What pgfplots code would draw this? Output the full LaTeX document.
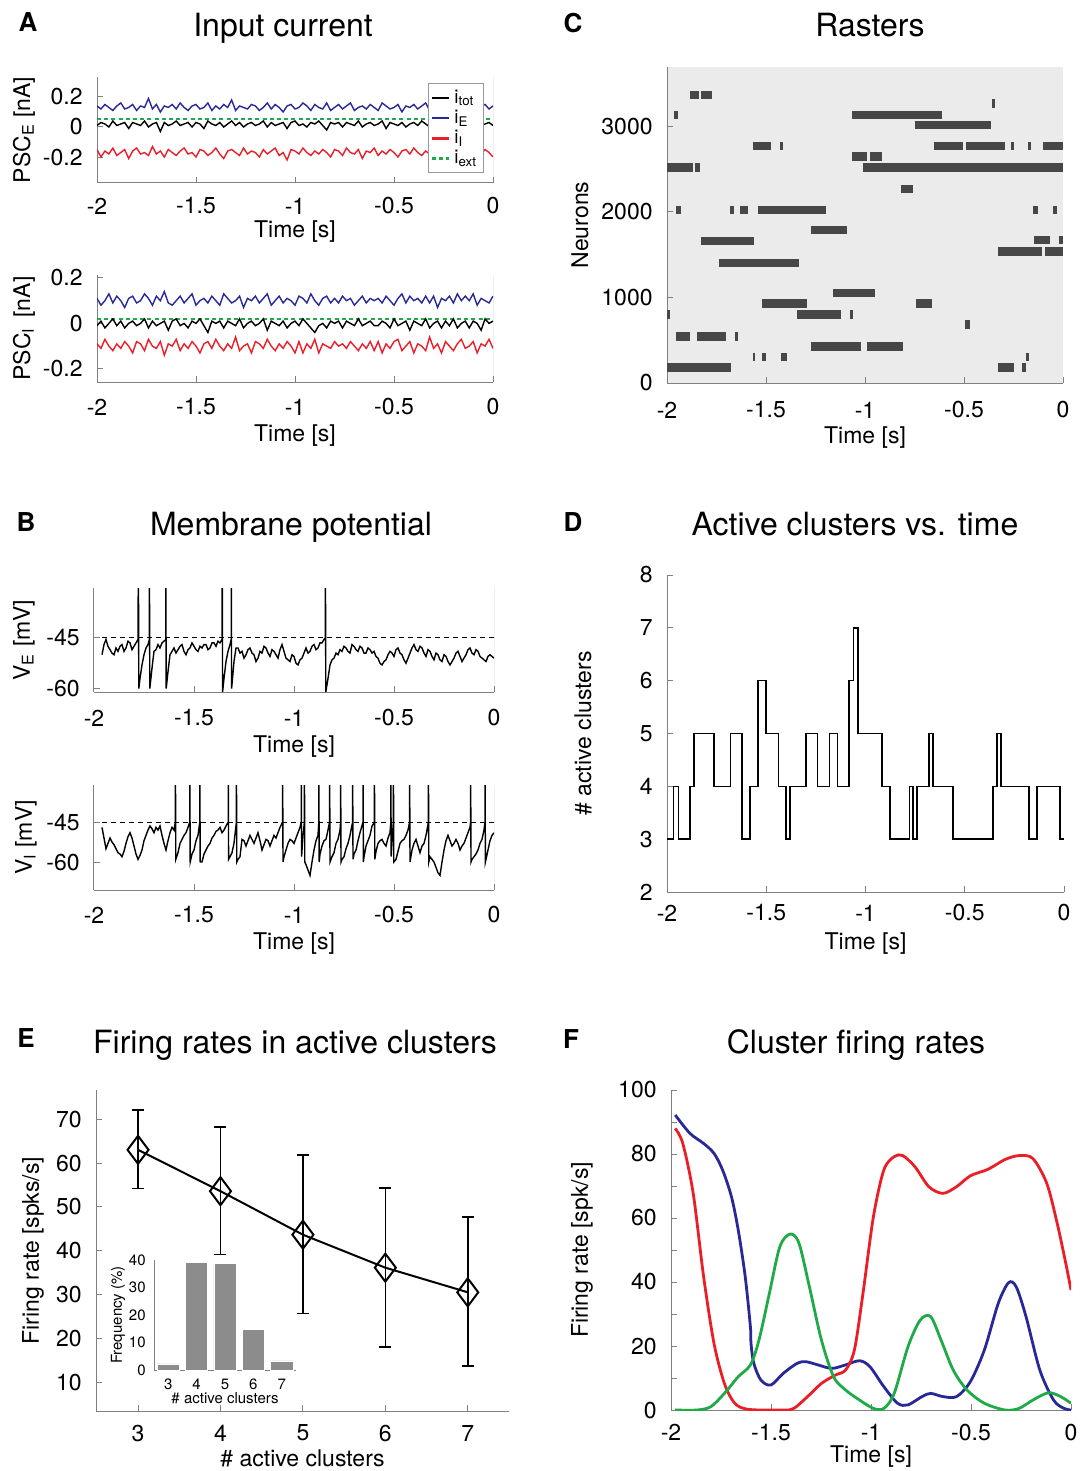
\documentclass[border=0pt]{standalone}
\usepackage{fontspec}
\setmainfont{TeX Gyre Heros}
\usepackage{pgfplots}
\usepackage{pgfplotstable}
\pgfplotsset{compat=1.18}
\definecolor{cb}{RGB}{40,40,150}
\definecolor{cr}{RGB}{235,30,40}
\definecolor{cg}{RGB}{30,170,70}
\newcommand\fTick{\fontsize{11.5}{13}\selectfont}
\newcommand\fTitle{\fontsize{16}{19}\selectfont}
\newcommand\fLet{\fontsize{13}{15}\selectfont\bfseries}
\newcommand\fSm{\fontsize{7.5}{9}\selectfont}
\newcommand\fLeg{\fontsize{9.5}{11}\selectfont}

\pgfplotsset{
 base/.style={
  scale only axis, anchor=south west,
  axis x line*=bottom, axis y line*=left,
  axis line style={draw=black!50, line width=0.5pt, -},
  every tick/.style={draw=black!50, line width=0.5pt},
  tick align=inside, major tick length=3pt,
  tick label style={font=\fTick, inner sep=0pt, text=black},
  yticklabel style={anchor=east, xshift=-7pt},
  /pgf/number format/assume math mode=true,
  /pgf/number format/1000 sep={},
  scaled ticks=false,
  xtick={-2,-1.5,-1,-0.5,0}, xmin=-2, xmax=0,
 },
 xtl/.style={xticklabel style={anchor=center, yshift=-#1}},
 xl/.style={every axis x label/.style={at={([yshift=-#1]rel axis cs:0.5,0)}, anchor=center, font=\fTick}},
 yl/.style={every axis y label/.style={at={([xshift=-#1]rel axis cs:0,0.5)}, rotate=90, anchor=center, font=\fTick}},
}

\pgfplotstableread{
x E T I
-2 0.14 0.01 -0.15
-1.98 0.12 0.03 -0.20
-1.96 0.15 0.02 -0.16
-1.94 0.13 0.00 -0.18
-1.92 0.11 0.04 -0.14
-1.90 0.14 0.01 -0.19
-1.88 0.16 0.02 -0.17
-1.86 0.12 0.03 -0.15
-1.84 0.13 -0.01 -0.21
-1.82 0.15 0.03 -0.16
-1.80 0.11 0.02 -0.14
-1.78 0.14 0.01 -0.18
-1.76 0.13 0.04 -0.17
-1.74 0.19 0.00 -0.19
-1.72 0.12 0.02 -0.13
-1.70 0.15 0.03 -0.18
-1.68 0.10 -0.03 -0.16
-1.66 0.14 0.03 -0.20
-1.64 0.13 0.01 -0.15
-1.62 0.15 0.02 -0.17
-1.60 0.12 0.04 -0.19
-1.58 0.16 0.01 -0.16
-1.56 0.13 0.02 -0.14
-1.54 0.11 0.03 -0.18
-1.52 0.14 0.00 -0.17
-1.50 0.15 0.03 -0.20
-1.48 0.12 0.02 -0.15
-1.46 0.13 -0.01 -0.16
-1.44 0.16 0.04 -0.19
-1.42 0.11 0.02 -0.17
-1.40 0.14 0.01 -0.14
-1.38 0.12 0.03 -0.18
-1.36 0.15 0.00 -0.21
-1.34 0.13 0.02 -0.16
-1.32 0.18 0.04 -0.15
-1.30 0.11 0.01 -0.17
-1.28 0.14 0.03 -0.19
-1.26 0.13 0.00 -0.14
-1.24 0.12 0.02 -0.18
-1.22 0.15 0.03 -0.16
-1.20 0.14 0.01 -0.17
-1.18 0.11 0.02 -0.20
-1.16 0.13 0.04 -0.15
-1.14 0.16 0.00 -0.18
-1.12 0.12 0.03 -0.16
-1.10 0.15 0.01 -0.14
-1.08 0.13 0.02 -0.19
-1.06 0.10 0.03 -0.17
-1.04 0.14 -0.01 -0.22
-1.02 0.15 0.03 -0.15
-1.00 0.12 0.04 -0.16
-0.98 0.13 0.01 -0.18
-0.96 0.16 0.02 -0.14
-0.94 0.14 0.00 -0.17
-0.92 0.11 0.03 -0.19
-0.90 0.15 0.02 -0.16
-0.88 0.13 0.04 -0.18
-0.86 0.12 0.01 -0.15
-0.84 0.16 -0.02 -0.17
-0.82 0.11 0.03 -0.20
-0.80 0.13 0.02 -0.15
-0.78 0.15 0.03 -0.16
-0.76 0.12 0.00 -0.19
-0.74 0.14 0.03 -0.14
-0.72 0.16 0.02 -0.17
-0.70 0.11 0.01 -0.18
-0.68 0.13 0.04 -0.15
-0.66 0.14 0.00 -0.21
-0.64 0.12 0.02 -0.16
-0.62 0.15 0.03 -0.17
-0.60 0.13 0.01 -0.14
-0.58 0.11 0.02 -0.19
-0.56 0.16 0.04 -0.16
-0.54 0.14 -0.01 -0.18
-0.52 0.12 0.03 -0.15
-0.50 0.13 0.02 -0.17
-0.48 0.15 0.01 -0.20
-0.46 0.10 0.03 -0.16
-0.44 0.14 0.00 -0.15
-0.42 0.13 0.02 -0.18
-0.40 0.15 0.03 -0.14
-0.38 0.12 0.01 -0.17
-0.36 0.14 0.04 -0.19
-0.34 0.16 0.02 -0.16
-0.32 0.11 0.00 -0.18
-0.30 0.13 0.03 -0.13
-0.28 0.15 0.01 -0.19
-0.26 0.12 0.02 -0.17
-0.24 0.14 -0.03 -0.16
-0.22 0.13 0.03 -0.20
-0.20 0.11 0.02 -0.15
-0.18 0.15 0.03 -0.16
-0.16 0.14 0.00 -0.18
-0.14 0.12 0.03 -0.14
-0.12 0.16 0.02 -0.17
-0.10 0.13 0.01 -0.19
-0.08 0.11 0.04 -0.16
-0.06 0.14 0.01 -0.18
-0.04 0.15 0.02 -0.15
-0.02 0.12 0.03 -0.17
0 0.14 0.01 -0.20
}\tAone

\pgfplotstableread{
x E T I
-2 0.11 -0.01 -0.09
-1.98 0.08 0.01 -0.11
-1.96 0.10 -0.02 -0.07
-1.94 0.13 0.00 -0.10
-1.92 0.09 0.02 -0.12
-1.90 0.12 -0.01 -0.09
-1.88 0.10 0.01 -0.11
-1.86 0.07 -0.02 -0.08
-1.84 0.11 0.00 -0.10
-1.82 0.12 0.01 -0.13
-1.80 0.09 -0.01 -0.08
-1.78 0.10 0.00 -0.09
-1.76 0.13 0.02 -0.12
-1.74 0.11 -0.02 -0.07
-1.72 0.08 0.01 -0.10
-1.70 0.12 -0.01 -0.11
-1.68 0.10 0.00 -0.08
-1.66 0.14 0.01 -0.14
-1.64 0.09 -0.03 -0.09
-1.62 0.08 0.01 -0.10
-1.60 0.10 0.02 -0.07
-1.58 0.12 -0.01 -0.12
-1.56 0.09 0.00 -0.09
-1.54 0.11 -0.02 -0.11
-1.52 0.13 0.01 -0.08
-1.50 0.08 0.00 -0.10
-1.48 0.10 0.02 -0.13
-1.46 0.11 -0.01 -0.09
-1.44 0.09 -0.04 -0.08
-1.42 0.12 0.01 -0.11
-1.40 0.10 0.00 -0.07
-1.38 0.08 0.01 -0.10
-1.36 0.13 -0.02 -0.12
-1.34 0.11 0.01 -0.09
-1.32 0.09 0.00 -0.11
-1.30 0.10 -0.01 -0.06
-1.28 0.12 0.02 -0.12
-1.26 0.07 -0.02 -0.10
-1.24 0.11 0.00 -0.09
-1.22 0.10 0.01 -0.13
-1.20 0.12 -0.01 -0.08
-1.18 0.09 0.00 -0.09
-1.16 0.11 0.02 -0.11
-1.14 0.13 -0.03 -0.07
-1.12 0.08 0.01 -0.10
-1.10 0.10 0.00 -0.12
-1.08 0.12 -0.01 -0.09
-1.06 0.09 0.01 -0.11
-1.04 0.11 -0.02 -0.08
-1.02 0.10 0.00 -0.10
-1.00 0.08 0.01 -0.13
-0.98 0.12 -0.01 -0.08
-0.96 0.11 0.02 -0.13
-0.94 0.09 0.00 -0.09
-0.92 0.13 -0.02 -0.11
-0.90 0.10 -0.04 -0.07
-0.88 0.08 -0.01 -0.13
-0.86 0.11 0.00 -0.09
-0.84 0.12 -0.02 -0.10
-0.82 0.09 0.01 -0.11
-0.80 0.11 0.00 -0.08
-0.78 0.09 0.01 -0.10
-0.76 0.12 -0.02 -0.09
-0.74 0.10 0.01 -0.11
-0.72 0.11 0.00 -0.08
-0.70 0.08 -0.01 -0.10
-0.68 0.10 0.02 -0.12
-0.66 0.12 -0.01 -0.09
-0.64 0.09 0.00 -0.11
-0.62 0.11 0.01 -0.08
-0.60 0.10 -0.01 -0.12
-0.58 0.11 -0.01 -0.08
-0.56 0.09 0.01 -0.13
-0.54 0.12 0.00 -0.09
-0.52 0.10 -0.02 -0.11
-0.50 0.08 0.02 -0.08
-0.48 0.11 -0.01 -0.07
-0.46 0.13 0.00 -0.12
-0.44 0.09 0.01 -0.10
-0.42 0.12 -0.03 -0.08
-0.40 0.10 0.01 -0.13
-0.38 0.11 0.00 -0.09
-0.36 0.09 -0.01 -0.10
-0.34 0.12 0.02 -0.12
-0.32 0.09 -0.02 -0.06
-0.30 0.12 0.00 -0.11
-0.28 0.07 0.01 -0.09
-0.26 0.11 -0.02 -0.13
-0.24 0.10 0.01 -0.08
-0.22 0.12 -0.01 -0.10
-0.20 0.09 0.02 -0.12
-0.18 0.13 -0.02 -0.09
-0.16 0.10 0.00 -0.07
-0.14 0.12 0.01 -0.11
-0.12 0.10 -0.02 -0.10
-0.10 0.13 0.01 -0.08
-0.08 0.08 0.00 -0.13
-0.06 0.11 -0.03 -0.09
-0.04 0.10 0.02 -0.10
-0.02 0.09 0.00 -0.07
0 0.12 0.01 -0.11
}\tAtwo

\pgfplotstableread{
x V
-1.96 -50
-1.95 -47
-1.94 -45.5
-1.93 -47.5
-1.92 -48.5
-1.91 -49.5
-1.90 -50
-1.89 -48
-1.88 -49
-1.87 -47.5
-1.86 -47
-1.85 -49
-1.84 -48
-1.83 -46
-1.82 -46.5
-1.81 -48.5
-1.80 -47.5
-1.79 -46.5
-1.78 -45.5
-1.778 -20
-1.776 -60
-1.77 -57
-1.76 -53
-1.75 -50
-1.74 -48
-1.73 -47
-1.723 -45.5
-1.723 -20
-1.721 -60
-1.71 -54
-1.70 -49
-1.69 -48.5
-1.68 -47
-1.67 -48
-1.66 -46.5
-1.65 -46
-1.641 -45.5
-1.641 -20
-1.639 -60
-1.63 -55
-1.62 -50
-1.61 -49
-1.60 -48
-1.59 -49.5
-1.58 -48.5
-1.57 -47.5
-1.56 -47
-1.55 -49
-1.54 -50
-1.53 -48.5
-1.52 -48
-1.51 -46.5
-1.50 -47.5
-1.49 -48.5
-1.48 -49
-1.47 -47.5
-1.46 -48
-1.45 -47
-1.44 -47
-1.43 -48.5
-1.42 -48
-1.41 -46.5
-1.40 -46.5
-1.39 -47.5
-1.38 -46
-1.37 -46.5
-1.36 -45.5
-1.359 -20
-1.357 -61
-1.35 -57
-1.34 -52
-1.33 -49
-1.32 -47
-1.314 -45.5
-1.314 -20
-1.312 -60
-1.30 -52
-1.29 -48
-1.28 -48
-1.27 -49.5
-1.26 -49
-1.25 -51
-1.24 -50
-1.23 -48.5
-1.22 -48
-1.21 -49.5
-1.20 -50
-1.19 -52
-1.18 -51
-1.17 -49
-1.16 -49.5
-1.15 -47.5
-1.14 -48
-1.13 -49.5
-1.12 -50.5
-1.11 -48.5
-1.10 -49
-1.09 -50
-1.08 -51
-1.07 -48.5
-1.06 -47
-1.05 -49
-1.04 -51
-1.03 -51.5
-1.02 -52
-1.01 -50
-1.00 -50.5
-0.99 -52.5
-0.98 -53
-0.97 -51.5
-0.96 -51
-0.95 -49.5
-0.94 -48
-0.93 -49.5
-0.92 -49
-0.91 -47.5
-0.90 -47
-0.89 -48.5
-0.88 -48
-0.87 -46.5
-0.86 -46.5
-0.85 -45.5
-0.843 -45
-0.843 -20
-0.841 -61
-0.83 -57
-0.82 -53
-0.81 -51.5
-0.80 -51
-0.79 -49.5
-0.78 -50
-0.77 -48.5
-0.76 -49
-0.75 -47.5
-0.74 -48
-0.73 -49
-0.72 -49.5
-0.71 -47
-0.70 -47.5
-0.69 -48.5
-0.68 -49
-0.67 -47.5
-0.66 -48
-0.65 -49.5
-0.64 -49.5
-0.63 -48
-0.62 -48.5
-0.61 -49.5
-0.60 -49
-0.59 -50.5
-0.58 -51
-0.57 -52.5
-0.56 -53
-0.55 -52
-0.54 -51.5
-0.53 -50
-0.52 -49
-0.51 -49.5
-0.50 -50.5
-0.49 -48.5
-0.48 -48
-0.47 -49.5
-0.46 -50
-0.45 -51.5
-0.44 -52.5
-0.43 -51
-0.42 -49.5
-0.41 -48
-0.40 -47
-0.39 -48.5
-0.38 -49
-0.37 -47.5
-0.36 -48
-0.35 -49.5
-0.34 -50.5
-0.33 -48.5
-0.32 -49
-0.31 -50.5
-0.30 -51.5
-0.29 -49.5
-0.28 -50
-0.27 -51.5
-0.26 -52
-0.25 -50
-0.24 -50.5
-0.23 -52
-0.22 -53
-0.21 -52
-0.20 -51
-0.19 -49.5
-0.18 -49
-0.17 -50.5
-0.16 -52
-0.15 -51
-0.14 -50
-0.13 -48.5
-0.12 -48
-0.11 -49.5
-0.10 -50
-0.09 -48.5
-0.08 -49
-0.07 -50.5
-0.06 -51
-0.05 -51.5
-0.04 -52
-0.03 -50.5
-0.02 -50
-0.01 -50.5
0 -51
}\tBE

\pgfplotstableread{
x V
-1.96 -47
-1.95 -51
-1.94 -55
-1.93 -53
-1.92 -51
-1.91 -52.5
-1.90 -53.5
-1.89 -55
-1.88 -56.5
-1.87 -57
-1.86 -58
-1.85 -56
-1.84 -53
-1.83 -50.5
-1.82 -49
-1.81 -51
-1.80 -54
-1.79 -57
-1.78 -59
-1.77 -57.5
-1.76 -55.5
-1.75 -52
-1.74 -50
-1.73 -48
-1.72 -46.5
-1.71 -47.5
-1.70 -49
-1.69 -47
-1.68 -48
-1.67 -46.5
-1.66 -50
-1.65 -53
-1.64 -55.5
-1.63 -52
-1.62 -49
-1.61 -47
-1.60 -48
-1.593 -45
-1.593 -20
-1.591 -59
-1.58 -56.5
-1.57 -53
-1.56 -51.5
-1.55 -50
-1.54 -49
-1.53 -47
-1.521 -45
-1.521 -20
-1.519 -60
-1.51 -57
-1.50 -55.5
-1.49 -52
-1.48 -50
-1.471 -45
-1.471 -20
-1.469 -60
-1.46 -60
-1.45 -57
-1.44 -55.5
-1.43 -54
-1.42 -53
-1.41 -51
-1.40 -50
-1.39 -48.5
-1.38 -48
-1.37 -47
-1.36 -49
-1.35 -48
-1.34 -46.5
-1.329 -45
-1.329 -20
-1.327 -59
-1.32 -58
-1.31 -56.5
-1.30 -53
-1.288 -45
-1.288 -20
-1.286 -60
-1.28 -59
-1.27 -58
-1.26 -51.5
-1.25 -52
-1.24 -54
-1.23 -52
-1.22 -50
-1.21 -51.5
-1.20 -53
-1.19 -51
-1.18 -49
-1.17 -52
-1.16 -55.5
-1.15 -53.5
-1.14 -51.5
-1.13 -52
-1.12 -54
-1.11 -52
-1.10 -50
-1.09 -51
-1.08 -49
-1.07 -47
-1.057 -45
-1.057 -20
-1.055 -60
-1.05 -58
-1.04 -55.5
-1.03 -53
-1.02 -51.5
-1.01 -52
-1.00 -53
-0.99 -51
-0.98 -49
-0.97 -47
-0.964 -45
-0.964 -20
-0.962 -58
-0.955 -50
-0.948 -45
-0.948 -20
-0.946 -60
-0.94 -61
-0.93 -63
-0.92 -65
-0.91 -60
-0.90 -55.5
-0.89 -52
-0.88 -50
-0.876 -45
-0.876 -20
-0.874 -60
-0.87 -57
-0.86 -54
-0.85 -52
-0.84 -51.5
-0.83 -48
-0.822 -45
-0.822 -20
-0.820 -60
-0.81 -58
-0.80 -56.5
-0.79 -53
-0.78 -51.5
-0.77 -48
-0.767 -45
-0.767 -20
-0.765 -60
-0.76 -59
-0.75 -58
-0.74 -55
-0.73 -53
-0.72 -50
-0.707 -45
-0.707 -20
-0.705 -59
-0.70 -57
-0.69 -55.5
-0.68 -52
-0.67 -49
-0.655 -45
-0.655 -20
-0.653 -60
-0.65 -58
-0.64 -54
-0.63 -52
-0.62 -50
-0.61 -46.5
-0.598 -45
-0.598 -20
-0.596 -59
-0.59 -56
-0.58 -53
-0.57 -52
-0.56 -51.5
-0.55 -53
-0.54 -54
-0.53 -51
-0.52 -49
-0.516 -45
-0.516 -20
-0.514 -58
-0.508 -50
-0.503 -45
-0.503 -20
-0.501 -60
-0.49 -59
-0.48 -56
-0.47 -53
-0.46 -52
-0.45 -51.5
-0.44 -50
-0.43 -48
-0.422 -45
-0.422 -20
-0.420 -60
-0.41 -55.5
-0.40 -53
-0.39 -51.5
-0.38 -54
-0.37 -56.5
-0.36 -54
-0.35 -53
-0.34 -50
-0.328 -45
-0.328 -20
-0.326 -60
-0.32 -58
-0.31 -59
-0.30 -60
-0.29 -62
-0.28 -64
-0.27 -65
-0.26 -60
-0.25 -55.5
-0.24 -52
-0.23 -50
-0.22 -52
-0.21 -54
-0.20 -53
-0.19 -51.5
-0.18 -53
-0.17 -55.5
-0.16 -54
-0.15 -53
-0.14 -51
-0.13 -49
-0.12 -47
-0.117 -45
-0.117 -20
-0.115 -60
-0.11 -59
-0.10 -58
-0.09 -57
-0.08 -55.5
-0.07 -53
-0.06 -51.5
-0.05 -48
-0.045 -45
-0.045 -20
-0.043 -60
-0.03 -55.5
-0.02 -52
-0.01 -50
0 -49
}\tBI

\pgfplotstableread{
x y
-1.886 3362
-1.84 3362
nan nan
-1.83 3362
-1.773 3362
nan nan
-1.965 3129
-1.945 3129
nan nan
-1.064 3129
-0.609 3129
nan nan
-0.749 3012
-0.364 3012
nan nan
-0.36 3265
-0.345 3265
nan nan
-1.568 2767
-1.475 2767
nan nan
-1.431 2767
-1.414 2767
nan nan
-0.653 2767
-0.504 2767
nan nan
-0.49 2767
-0.294 2767
nan nan
-0.262 2767
-0.25 2767
nan nan
-0.175 2767
-0.16 2767
nan nan
-0.10 2767
0 2767
nan nan
-1.064 2643
-0.99 2643
nan nan
-0.975 2643
-0.915 2643
nan nan
-1.011 2514
0 2514
nan nan
-2 2514
-1.87 2514
nan nan
-1.86 2514
-1.834 2514
nan nan
-0.819 2266
-0.758 2266
nan nan
-1.956 2021
-1.93 2021
nan nan
-1.68 2021
-1.66 2021
nan nan
-1.63 2021
-1.59 2021
nan nan
-1.54 2021
-1.195 2021
nan nan
-0.154 2021
-0.128 2021
nan nan
-0.049 2021
-0.031 2021
nan nan
-1.274 1788
-1.09 1788
nan nan
-1.83 1656
-1.563 1656
nan nan
-1.738 1399
-1.335 1399
nan nan
-0.145 1671
-0.066 1671
nan nan
-0.022 1671
0 1671
nan nan
-0.329 1535
-0.105 1535
nan nan
-0.09 1535
0 1535
nan nan
-1.16 1049
-0.95 1049
nan nan
-1.522 925
-1.291 925
nan nan
-1.344 797
-1.12 797
nan nan
-1.075 797
-1.062 797
nan nan
-0.74 925
-0.661 925
nan nan
-2 797
-1.983 797
nan nan
-0.495 680
-0.469 680
nan nan
-1.956 544
-1.886 544
nan nan
-1.851 544
-1.703 544
nan nan
-1.659 544
-1.641 544
nan nan
-1.274 428
-1.02 428
nan nan
-0.99 428
-0.81 428
nan nan
-1.568 303
-1.554 303
nan nan
-1.519 303
-1.501 303
nan nan
-1.423 303
-1.396 303
nan nan
-2 183
-1.676 183
nan nan
-0.329 183
-0.25 183
nan nan
-0.206 183
-0.189 183
nan nan
-0.189 303
-0.17 303
}\tC

\begin{document}
\begin{tikzpicture}
\useasboundingbox (0pt,0pt) rectangle (542pt,-735.5pt);
\begin{scope}[x=0.5pt,y=-0.5pt]
\node[font=\fLet,anchor=base] at (28,32) {A};
\node[font=\fLet,anchor=base] at (573,33) {C};
\node[font=\fLet,anchor=base] at (26,531) {B};
\node[font=\fLet,anchor=base] at (573,531) {D};
\node[font=\fLet,anchor=base] at (26,1047) {E};
\node[font=\fLet,anchor=base] at (571,1048) {F};
\node[font=\fTitle,anchor=base] at (283,37) {Input current};
\node[font=\fTitle,anchor=base] at (870,37) {Rasters};
\node[font=\fTitle,anchor=base] at (291,535) {Membrane potential};
\node[font=\fTitle,anchor=base] at (855,535) {Active clusters vs. time};
\node[font=\fTitle,anchor=base] at (295,1053) {Firing rates in active clusters};
\node[font=\fTitle,anchor=base] at (856,1053) {Cluster firing rates};
\end{scope}

% ---------- A1
\begin{axis}[base, at={(48.5pt,-91.5pt)}, width=198pt, height=53pt,
  ymin=-0.373, ymax=0.333, ytick={-0.2,0,0.2},
  xtl=11.5pt, xl=24.5pt, yl=36.5pt,
  xlabel={Time [s]}, ylabel={PSC\textsubscript{E} [nA]},
  legend style={at={(0.977,0.943)}, anchor=north east, draw=black!40, fill=white,
    font=\fLeg, inner sep=1.2pt, row sep=-2.2pt, cells={anchor=west}},
  legend image code/.code={\draw[#1, line width=1.4pt] (0pt,0pt) -- (8.5pt,0pt);}]
\addplot[black, line width=0.7pt] table[x=x,y=T] {\tAone};
\addlegendentry{i\textsubscript{tot}}
\addplot[cb, line width=0.7pt] table[x=x,y=E] {\tAone};
\addlegendentry{i\textsubscript{E}}
\addplot[cr, line width=0.7pt] table[x=x,y=I] {\tAone};
\addlegendentry{i\textsubscript{I}}
\addplot[cg, line width=1pt, dash pattern=on 2pt off 1.6pt] coordinates {(-2,0.05) (0,0.05)};
\addlegendentry{i\textsubscript{ext}}
\draw[black!50, line width=0.5pt] (rel axis cs:1,0) -- (rel axis cs:1,1);
\end{axis}

% ---------- A2
\begin{axis}[base, at={(48.5pt,-191pt)}, width=198pt, height=53.5pt,
  ymin=-0.258, ymax=0.213, ytick={-0.2,0,0.2},
  xtl=12.5pt, xl=27pt, yl=36.5pt,
  xlabel={Time [s]}, ylabel={PSC\textsubscript{I}\, [nA]}]
\addplot[cb, line width=0.7pt] table[x=x,y=E] {\tAtwo};
\addplot[cr, line width=0.7pt] table[x=x,y=I] {\tAtwo};
\addplot[cg, line width=1pt, dash pattern=on 2pt off 1.6pt] coordinates {(-2,0.02) (0,0.02)};
\addplot[black, line width=0.7pt] table[x=x,y=T] {\tAtwo};
\draw[black!50, line width=0.5pt] (rel axis cs:1,0) -- (rel axis cs:1,1);
\end{axis}

% ---------- B1
\begin{axis}[base, at={(47pt,-346pt)}, width=200pt, height=52pt,
  ymin=-61, ymax=-30.3, ytick={-60,-45},
  xtl=13pt, xl=27.5pt, yl=35pt,
  xlabel={Time [s]}, ylabel={V\textsubscript{E} [mV]}]
\addplot[black, line width=0.4pt, dash pattern=on 2.5pt off 2pt] coordinates {(-1.96,-45) (0,-45)};
\addplot[black, line width=0.7pt] table[x=x,y=V] {\tBE};
\draw[black!50, line width=0.5pt] (rel axis cs:1,0) -- (rel axis cs:1,1);
\end{axis}

% ---------- B2
\begin{axis}[base, at={(47pt,-445pt)}, width=200pt, height=52.5pt,
  ymin=-70.5, ymax=-31.1, ytick={-60,-45},
  xtl=12.5pt, xl=27pt, yl=34pt,
  xlabel={Time [s]}, ylabel={V\textsubscript{I} [mV]}]
\addplot[black, line width=0.4pt, dash pattern=on 2.5pt off 2pt] coordinates {(-1.96,-45) (0,-45)};
\addplot[black, line width=0.7pt] table[x=x,y=V] {\tBI};
\draw[black!50, line width=0.5pt] (rel axis cs:1,0) -- (rel axis cs:1,1);
\end{axis}

% ---------- C
\begin{axis}[base, at={(333.5pt,-191.5pt)}, width=198pt, height=158pt,
  ymin=0, ymax=3690, ytick={0,1000,2000,3000},
  axis background/.style={fill=black!8},
  xtl=13.5pt, xl=27.5pt, yl=43.5pt,
  xlabel={Time [s]}, ylabel={Neurons}]
\addplot[black!72, line width=4.3pt, line cap=butt, unbounded coords=jump] table[x=x,y=y] {\tC};
\end{axis}

% ---------- D
\begin{axis}[base, at={(333.5pt,-446pt)}, width=198.5pt, height=158.5pt,
  ymin=2, ymax=8, ytick={2,3,4,5,6,7,8},
  xtl=10.5pt, xl=26pt, yl=42pt,
  xlabel={Time [s]}, ylabel={\# active clusters}]
\addplot[black, line width=0.8pt, const plot] coordinates {
(-2,3) (-1.967,4) (-1.942,3) (-1.884,4) (-1.863,5) (-1.763,4) (-1.681,5) (-1.621,3)
(-1.583,4) (-1.543,6) (-1.501,5) (-1.439,4) (-1.402,3) (-1.381,4) (-1.301,5) (-1.241,4)
(-1.181,5) (-1.141,4) (-1.082,6) (-1.060,7) (-1.039,5) (-0.918,4) (-0.878,3) (-0.778,4)
(-0.761,3) (-0.740,4) (-0.680,5) (-0.659,4) (-0.558,3) (-0.358,4) (-0.337,5) (-0.316,4)
(-0.177,3) (-0.137,4) (-0.019,3) (0,3)};
\end{axis}

% ---------- E
\begin{axis}[base, at={(48pt,-705.5pt)}, width=206.5pt, height=160.5pt,
  xmin=2.49, xmax=7.5, xtick={3,4,5,6,7},
  ymin=3.6, ymax=76.6, ytick={10,20,30,40,50,60,70},
  xtl=11pt, xl=23.5pt, yl=31.5pt,
  xlabel={\# active clusters}, ylabel={Firing rate [spks/s]}]
\addplot[black, line width=1pt, mark=diamond, mark size=7pt,
  mark options={solid, line width=1pt},
  error bars/.cd, y dir=both, y explicit,
  error bar style={line width=0.8pt},
  error mark=|,
  error mark options={mark size=3pt, line width=0.8pt}]
  coordinates {
  (3,63) += (0,9) -= (0,8.8)
  (4,53.6) += (0,14.6) -= (0,14.4)
  (5,43.7) += (0,18.1) -= (0,17.9)
  (6,36.2) += (0,18.1) -= (0,18)
  (7,30.6) += (0,17.1) -= (0,16.8)};
\end{axis}

% ---------- E inset
\begin{axis}[base, at={(77pt,-685pt)}, width=71pt, height=55pt,
  xmin=2.5, xmax=7.5, xtick={3,4,5,6,7},
  ymin=0, ymax=40, ytick={0,10,20,30,40},
  tick label style={font=\fSm, inner sep=0pt},
  yticklabel style={xshift=3pt},
  major tick length=0pt,
  xtl=7pt, xl=14pt, yl=18pt,
  xlabel style={font=\fSm}, ylabel style={font=\fSm},
  xlabel={\# active clusters}, ylabel={Frequency (\%)}]
\addplot[ybar, bar width=0.78, fill=black!45, draw=white, line width=0.3pt] coordinates {
  (3,2.2) (4,39) (5,38.7) (6,14.9) (7,3.3)};
\end{axis}

% ---------- F
\begin{axis}[base, at={(335.5pt,-705pt)}, width=200pt, height=160pt,
  ymin=0, ymax=100, ytick={0,10,20,30,40,50,60,70,80,90,100},
  yticklabels={0,,20,,40,,60,,80,,100},
  xtl=11pt, xl=23.5pt, yl=44.5pt,
  xlabel={Time [s]}, ylabel={Firing rate [spk/s]}]
\addplot[cb, line width=1.4pt, smooth] coordinates {
(-1.979,92.2) (-1.906,86.5) (-1.837,83.3) (-1.785,80.2) (-1.742,75) (-1.698,66.7)
(-1.664,56.3) (-1.629,41.7) (-1.603,26) (-1.6,20.8) (-1.586,14.6) (-1.551,9.4)
(-1.501,7.8) (-1.438,11.5) (-1.369,14.6) (-1.326,15.1) (-1.265,14.1) (-1.196,13)
(-1.127,14.1) (-1.057,15.4) (-1.005,13.5) (-0.936,7.3) (-0.867,2.1) (-0.815,1.6)
(-0.745,4.2) (-0.702,5.2) (-0.641,4.2) (-0.572,4.2) (-0.503,8.9) (-0.433,18.8)
(-0.364,33.3) (-0.312,39.8) (-0.274,38.5) (-0.225,29.2) (-0.156,12.5) (-0.087,3.1)
(-0.035,0.5) (0,0)};
\addplot[cr, line width=1.4pt, smooth] coordinates {
(-1.979,88) (-1.941,83.3) (-1.889,67.7) (-1.837,41.7) (-1.785,20.8) (-1.733,8.3)
(-1.681,2.1) (-1.612,0.2) (-1.438,0) (-1.386,0.5) (-1.317,4.2) (-1.248,8.3)
(-1.179,10.9) (-1.127,12.5) (-1.083,18.8) (-1.040,36.5) (-0.988,60.4) (-0.936,75)
(-0.884,79.2) (-0.841,79.5) (-0.780,76) (-0.711,69.8) (-0.641,67.7) (-0.572,69.8)
(-0.503,73.2) (-0.416,75.2) (-0.329,78.3) (-0.260,79.5) (-0.191,78.6) (-0.121,70.8)
(-0.069,58.3) (-0.026,45.8) (0,37.5)};
\addplot[cg, line width=1.4pt, smooth] coordinates {
(-1.979,0) (-1.872,0) (-1.802,1) (-1.733,5.2) (-1.664,10.4) (-1.603,14.1)
(-1.560,21.9) (-1.508,36.5) (-1.456,51) (-1.404,55) (-1.360,52.1) (-1.308,38.5)
(-1.248,21.9) (-1.187,10.4) (-1.127,6.25) (-1.057,3.1) (-0.988,0.5) (-0.936,0.5)
(-0.884,5.2) (-0.815,19.8) (-0.754,28.1) (-0.702,29.2) (-0.650,21.9) (-0.589,12.5)
(-0.520,6.25) (-0.433,2.1) (-0.329,0) (-0.260,0.5) (-0.191,3.1) (-0.113,5.4)
(-0.052,4.2) (0,2.1)};
\end{axis}
\end{tikzpicture}
\end{document}
